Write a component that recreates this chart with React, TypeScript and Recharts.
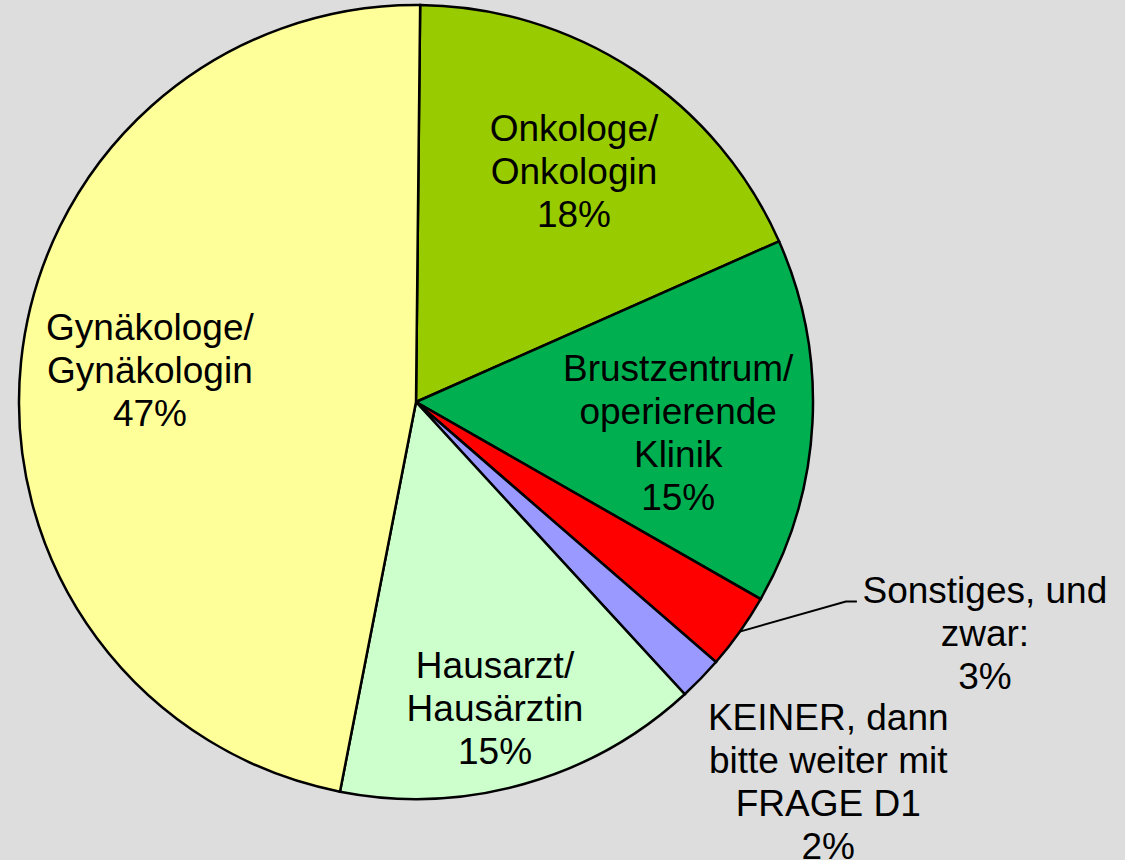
import { PieChart, Pie, Cell } from 'recharts'

const CATEGORIES = [
  'Onkologe/\nOnkologin',
  'Brustzentrum/\noperierende\nKlinik',
  'Sonstiges, und\nzwar:',
  'KEINER, dann\nbitte weiter mit\nFRAGE D1',
  'Hausarzt/\nHausärztin',
  'Gynäkologe/\nGynäkologin',
]
const SHARES = [18.2, 14.9, 3.1, 1.8, 14.9, 47.1]
const COLORS = ['#99CC00', '#00B050', '#FF0000', '#9999FF', '#CCFFCC', '#FFFF99']

// label placement: radius factor + clockwise nudge (deg) relative to the slice middle
const PLACEMENT = [
  { rf: 0.705, da: 1.0, leader: false },
  { rf: 0.665, da: 3.8, leader: false },
  { rf: 1.547, da: -13.2, leader: true },
  { rf: 1.412, da: -1.5, leader: false },
  { rf: 0.796, da: 1.3, leader: false },
  { rf: 0.675, da: 1.0, leader: false },
]

const data = CATEGORIES.map((name, i) => ({ name, value: SHARES[i] }))

const RAD = Math.PI / 180
const FONT = 37
const LINE_H = 43

function renderLabel(props: any) {
  const { cx, cy, midAngle, outerRadius, index, percent } = props
  const p = PLACEMENT[index]
  const a = (midAngle - p.da) * RAD
  const x = cx + outerRadius * p.rf * Math.cos(a)
  const y = cy - outerRadius * p.rf * Math.sin(a)
  const lines = [...CATEGORIES[index].split('\n'), `${Math.round(percent * 100)}%`]
  const top = y - ((lines.length - 1) * LINE_H) / 2

  let leader = null
  if (p.leader) {
    const m = midAngle * RAD
    const sx = cx + outerRadius * Math.cos(m)
    const sy = cy - outerRadius * Math.sin(m)
    const ex = x - 128
    const ey = y - 32
    leader = (
      <polyline
        points={`${sx},${sy} ${ex - 11},${ey} ${ex},${ey}`}
        fill="none"
        stroke="#000"
        strokeWidth={2}
      />
    )
  }

  return (
    <g key={`lbl-${index}`}>
      {leader}
      <text
        x={x}
        y={top}
        textAnchor="middle"
        dominantBaseline="central"
        fontFamily="'Liberation Sans', Arial, sans-serif"
        fontSize={FONT}
        fill="#000"
      >
        {lines.map((l, j) => (
          <tspan key={j} x={x} y={top + j * LINE_H} dominantBaseline="central">
            {l}
          </tspan>
        ))}
      </text>
    </g>
  )
}

export default function App() {
  return (
    <div
      style={{
        position: 'absolute',
        left: 0,
        top: 0,
        width: 1125,
        height: 860,
        background: '#DDDDDD',
        overflow: 'hidden',
      }}
    >
      <PieChart width={1125} height={860} margin={{ top: 0, right: 0, bottom: 0, left: 0 }}>
        <Pie
          data={data}
          dataKey="value"
          nameKey="name"
          cx={416}
          cy={402}
          outerRadius={397}
          startAngle={89.4}
          endAngle={-270.6}
          stroke="#000"
          strokeWidth={2.5}
          label={renderLabel}
          labelLine={false}
          isAnimationActive={false}
        >
          {data.map((d, i) => (
            <Cell key={i} fill={COLORS[i]} />
          ))}
        </Pie>
      </PieChart>
    </div>
  )
}
